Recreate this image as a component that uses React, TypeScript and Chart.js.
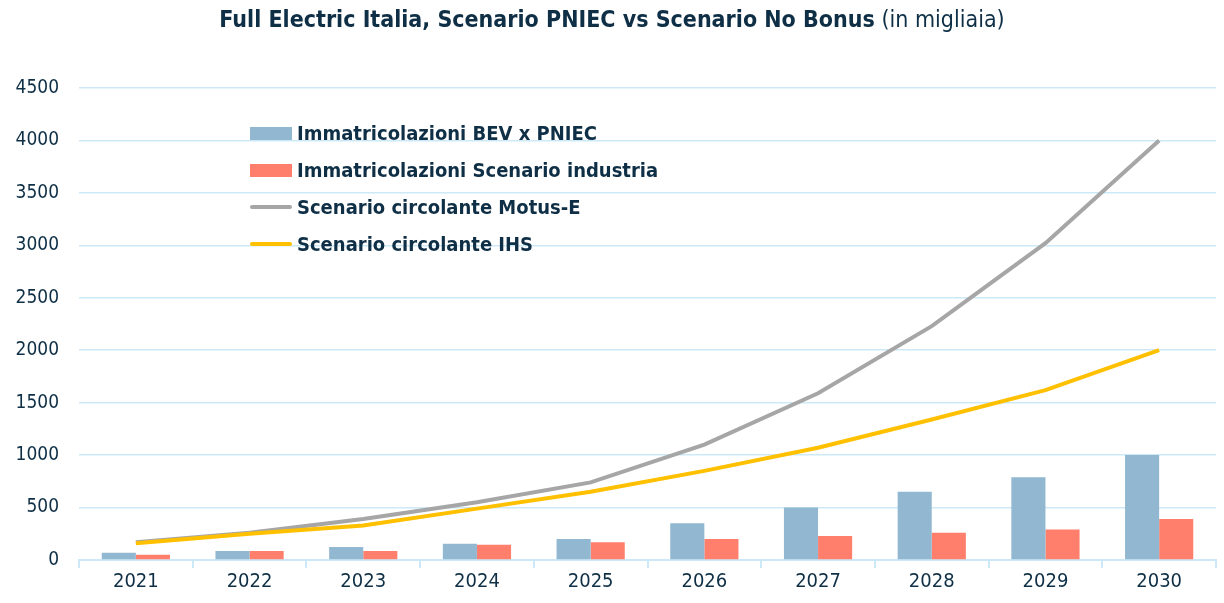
import React, { useEffect, useRef } from "react";
import { Chart, registerables } from "chart.js";

Chart.register(...registerables);

const categories = ["2021", "2022", "2023", "2024", "2025", "2026", "2027", "2028", "2029", "2030"];
const bevPniec = [70, 85, 125, 155, 200, 350, 500, 650, 790, 1000];
const scenarioIndustria = [50, 85, 85, 145, 170, 200, 230, 260, 290, 390];
const circolanteMotusE = [170, 260, 390, 550, 740, 1100, 1590, 2230, 3020, 4000];
const circolanteIHS = [160, 250, 330, 490, 650, 850, 1070, 1340, 1620, 2000];
const yTicks = [0, 500, 1000, 1500, 2000, 2500, 3000, 3500, 4000, 4500];

const titleBold = "Full Electric Italia, Scenario PNIEC vs Scenario No Bonus";
const titleNormal = "(in migliaia)";
const legendLabels = [
  "Immatricolazioni BEV x PNIEC",
  "Immatricolazioni Scenario industria",
  "Scenario circolante Motus-E",
  "Scenario circolante IHS",
];

const BLUE = "#91B8D0";
const SALMON = "#FF7F6C";
const GRAY = "#A6A6A6";
const YELLOW = "#FFC000";
const NAVY = "#0E2F45";
const GRID = "#CDE9F7";
const FONT = "'DejaVu Sans Condensed', 'DejaVu Sans', sans-serif";

export default function App() {
  const ref = useRef<HTMLCanvasElement | null>(null);

  useEffect(() => {
    if (!ref.current) return;
    const chart = new Chart(ref.current, {
      type: "bar",
      data: {
        labels: categories,
        datasets: [
          {
            type: "line",
            label: legendLabels[2],
            data: circolanteMotusE,
            borderColor: GRAY,
            backgroundColor: GRAY,
            borderWidth: 4,
            pointRadius: 0,
            tension: 0,
            order: 1,
          },
          {
            type: "line",
            label: legendLabels[3],
            data: circolanteIHS,
            borderColor: YELLOW,
            backgroundColor: YELLOW,
            borderWidth: 4,
            pointRadius: 0,
            tension: 0,
            order: 0,
          },
          {
            type: "bar",
            label: legendLabels[0],
            data: bevPniec,
            backgroundColor: BLUE,
            categoryPercentage: 0.6,
            barPercentage: 1.0,
            order: 2,
          },
          {
            type: "bar",
            label: legendLabels[1],
            data: scenarioIndustria,
            backgroundColor: SALMON,
            categoryPercentage: 0.6,
            barPercentage: 1.0,
            order: 3,
          },
        ],
      },
      options: {
        animation: false,
        responsive: false,
        maintainAspectRatio: false,
        layout: { padding: { top: 88, right: 8, bottom: 7, left: 0 } },
        plugins: {
          legend: { display: false },
          title: { display: false },
          tooltip: { enabled: false },
        },
        scales: {
          x: {
            offset: true,
            grid: {
              offset: true,
              drawOnChartArea: false,
              drawTicks: true,
              tickLength: 8,
              color: GRID,
              lineWidth: 2,
            },
            border: { display: true, color: GRID, width: 2 },
            ticks: {
              color: NAVY,
              font: { family: FONT, size: 20 },
              padding: 2,
            },
          },
          y: {
            min: 0,
            max: 4500,
            afterBuildTicks: (axis: any) => {
              axis.ticks = yTicks.map((v) => ({ value: v }));
            },
            afterFit: (axis: any) => {
              axis.width = 79;
            },
            grid: { color: GRID, lineWidth: 1.5, drawTicks: false },
            border: { display: false },
            ticks: {
              color: NAVY,
              font: { family: FONT, size: 19 },
              padding: 20,
              callback: (v: any) => String(v),
            },
          },
        },
      },
    });
    return () => chart.destroy();
  }, []);

  const legendRow = (i: number) => {
    const isBar = i < 2;
    const color = [BLUE, SALMON, GRAY, YELLOW][i];
    return (
      <div
        key={i}
        style={{
          position: "absolute",
          left: 250,
          top: 120 + i * 37,
          height: 26,
          display: "flex",
          alignItems: "center",
        }}
      >
        <div
          style={{
            width: 42,
            height: isBar ? 13 : 4,
            background: color,
            borderRadius: isBar ? 0 : 2,
            marginRight: 5,
          }}
        />
        <span
          style={{
            fontFamily: FONT,
            fontWeight: "bold",
            fontSize: 20,
            color: NAVY,
            whiteSpace: "nowrap",
          }}
        >
          {legendLabels[i]}
        </span>
      </div>
    );
  };

  return (
    <div
      style={{
        position: "fixed",
        left: 0,
        top: 0,
        width: 1224,
        height: 603,
        background: "#ffffff",
        overflow: "hidden",
      }}
    >
      <canvas ref={ref} width={1224} height={603} style={{ position: "absolute", left: 0, top: 0 }} />
      <div
        style={{
          position: "absolute",
          left: 0,
          top: 6,
          width: 1224,
          textAlign: "center",
          fontFamily: FONT,
          fontSize: 23,
          color: NAVY,
          whiteSpace: "nowrap",
        }}
      >
        <span style={{ fontWeight: "bold" }}>{titleBold}</span> <span>{titleNormal}</span>
      </div>
      {[0, 1, 2, 3].map(legendRow)}
    </div>
  );
}
